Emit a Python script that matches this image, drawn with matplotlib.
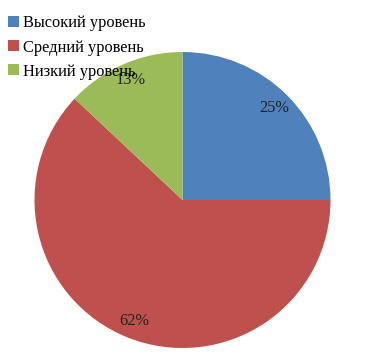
import matplotlib.pyplot as plt
from matplotlib.patches import Patch

# Data
labels = ["Высокий уровень", "Средний уровень", "Низкий уровень"]
values = [25, 62, 13]
colors = ["#4F81BD", "#C0504D", "#9BBB59"]

plt.rcParams['font.family'] = ['Liberation Serif', 'DejaVu Serif']

fig = plt.figure(figsize=(3.65, 3.56), dpi=100)
ax = fig.add_axes([34 / 365, 8 / 356, 297 / 365, 296 / 356])

ax.pie(values, colors=colors, startangle=90, counterclock=False,
       autopct='%1.0f%%', pctdistance=0.88, radius=1,
       textprops={'fontsize': 11.8, 'color': '#222222'})
ax.set_xlim(-1, 1)
ax.set_ylim(-1, 1)
ax.set_aspect('equal')
ax.axis('off')

handles = [Patch(facecolor=c, edgecolor='none') for c in colors]
fig.legend(handles, labels, loc='upper left', bbox_to_anchor=(0.022, 0.957),
           frameon=False, fontsize=11.8, handlelength=0.65, handleheight=0.65,
           handletextpad=0.25, labelspacing=0.5, borderaxespad=0,
           borderpad=0)

fig.savefig('out.png', dpi=100)
